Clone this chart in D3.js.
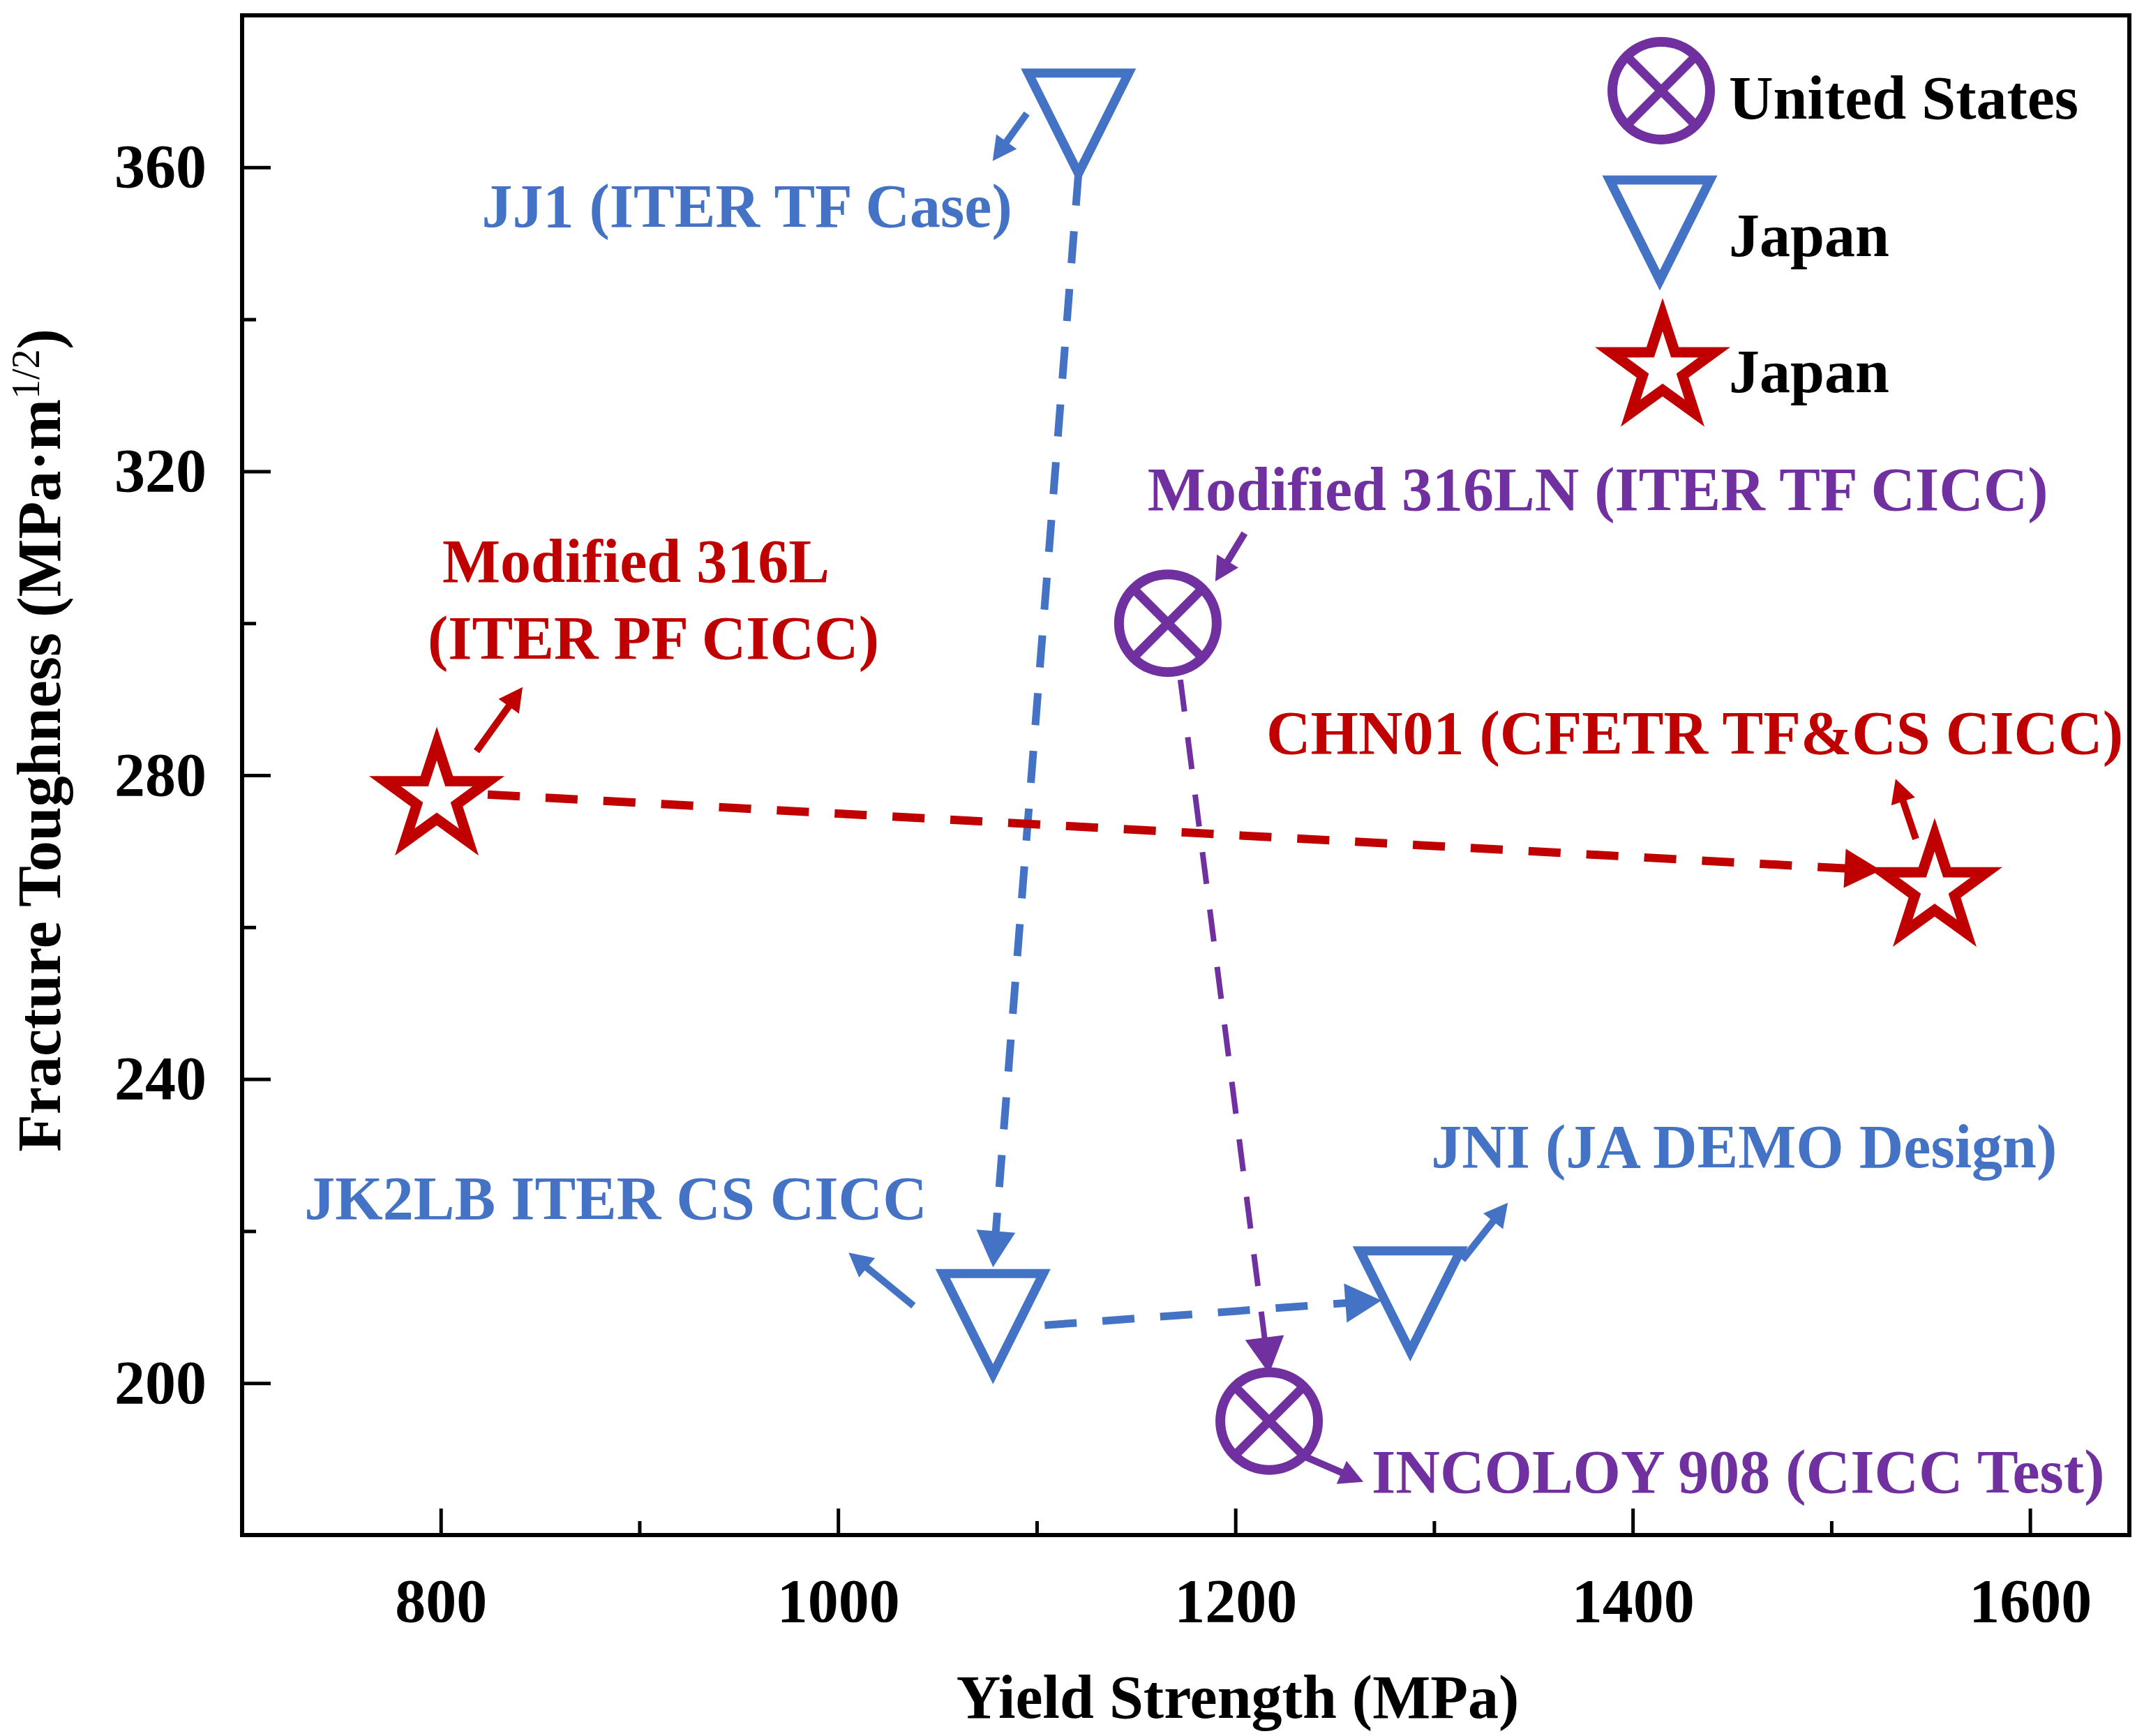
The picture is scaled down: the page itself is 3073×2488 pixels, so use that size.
<!DOCTYPE html>
<html><head><meta charset="utf-8">
<script src="https://cdn.jsdelivr.net/npm/d3@7"></script>
<style>body{margin:0;background:#fff}</style>
</head><body><svg id="chart" width="3073" height="2488" xmlns="http://www.w3.org/2000/svg"></svg>
<script>
// ---------------- DATA ----------------
const seriesNames = ["United States", "Japan", "Japan"];
const pointLabels = [
  ["JJ1 (ITER TF Case)"],
  ["JK2LB ITER CS CICC"],
  ["JNI (JA DEMO Design)"],
  ["Modified 316LN (ITER TF CICC)"],
  ["INCOLOY 908 (CICC Test)"],
  ["Modified 316L", "(ITER PF CICC)"],
  ["CHN01 (CFETR TF&CS CICC)"]
];
const pointSeries = [1, 1, 1, 0, 0, 2, 2];
const yieldStrength = [1121, 1078, 1288, 1166, 1217, 798, 1552];
const fractureToughness = [368, 210, 213, 300, 195, 277, 265];
const transitions = [[0, 1], [1, 2], [3, 4], [5, 6]];
const xTicks = [800, 1000, 1200, 1400, 1600];
const xMinorTicks = [900, 1100, 1300, 1500];
const yTicks = [200, 240, 280, 320, 360];
const yMinorTicks = [220, 260, 300, 340];

// ---------------- STYLE / LAYOUT ----------------
const FONT = "'Liberation Serif','Times New Roman',serif";
const seriesColor = ["#7030A0", "#4472C4", "#C00000"];
const seriesShape = ["circleX", "triangle", "star"];
const connectorStyle = [
  {s: [0, 96], e: [0, -57], w: 11},
  {s: [74, 26], e: [-41, 23], w: 11},
  {s: [18, 81], e: [0, -68], w: 8},
  {s: [73, -5], e: [-77, -27], w: 12}
];
const labelLayout = [
  {pos: [[-95, 172]], anchor: "end"},
  {pos: [[-987, -126]], anchor: "start"},
  {pos: [[30, -168]], anchor: "start"},
  {pos: [[-29, -162]], anchor: "start"},
  {pos: [[147, 102]], anchor: "start"},
  {pos: [[8, -310], [-13, -200]], anchor: "start"},
  {pos: [[270, -194]], anchor: "end"}
];
const labelArrows = [
  [-74, 10, -123, 78],
  [-114, -2, -207, -78],
  [75, -35, 140, -117],
  [110, -129, 68, -60],
  [49, 50, 135, 87],
  [57, -67, 123, -159],
  [-27, -72, -56, -158]
];

const svg = d3.select("#chart");
const x = d3.scaleLinear().domain([700, 1650]).range([347, 3052]);
const y = d3.scaleLinear().domain([180, 380]).range([2200, 22]);

// ---------------- AXES ----------------
function styleAxis(g) {
  g.select(".domain").remove();
  g.selectAll(".tick line").attr("stroke", "#000").attr("stroke-width", 5);
  g.selectAll(".tick text").attr("font-family", FONT).attr("font-weight", "bold")
    .attr("font-size", 88).attr("fill", "#000");
}
const gx = svg.append("g").attr("transform", `translate(0,${y(180)})`)
  .call(d3.axisBottom(x).tickValues(xTicks).tickSize(-38).tickSizeOuter(0).tickPadding(62).tickFormat(d3.format("d")));
styleAxis(gx);
const gxm = svg.append("g").attr("transform", `translate(0,${y(180)})`)
  .call(d3.axisBottom(x).tickValues(xMinorTicks).tickSize(-20).tickSizeOuter(0).tickFormat(() => ""));
styleAxis(gxm);
const gy = svg.append("g").attr("transform", `translate(${x(700)},0)`)
  .call(d3.axisLeft(y).tickValues(yTicks).tickSize(-41).tickSizeOuter(0).tickPadding(51).tickFormat(d3.format("d")));
styleAxis(gy);
const gym = svg.append("g").attr("transform", `translate(${x(700)},0)`)
  .call(d3.axisLeft(y).tickValues(yMinorTicks).tickSize(-20).tickSizeOuter(0).tickFormat(() => ""));
styleAxis(gym);

svg.append("rect").attr("x", x(700)).attr("y", y(380))
  .attr("width", x(1650) - x(700)).attr("height", y(180) - y(380))
  .attr("fill", "none").attr("stroke", "#000").attr("stroke-width", 6);

// axis titles
svg.append("text").attr("x", 1774).attr("y", 2462).attr("text-anchor", "middle")
  .attr("font-family", FONT).attr("font-weight", "bold").attr("font-size", 88)
  .text("Yield Strength (MPa)");
const yt = svg.append("text").attr("transform", "translate(86,1061) rotate(-90)")
  .attr("text-anchor", "middle").attr("font-family", FONT).attr("font-weight", "bold").attr("font-size", 88);
yt.append("tspan").text("Fracture Toughness (MPa\u00B7m");
yt.append("tspan").attr("font-size", 56).attr("font-weight", "normal").attr("dy", -30).text("1/2");
yt.append("tspan").attr("dy", 30).text(")");

// ---------------- HELPERS ----------------
function arrow(g, x1, y1, x2, y2, color, width, headL, headW, dash) {
  const dx = x2 - x1, dy = y2 - y1, len = Math.hypot(dx, dy);
  const ux = dx / len, uy = dy / len, nx = -uy, ny = ux;
  const bx = x2 - ux * headL, by = y2 - uy * headL;
  const ln = g.append("line").attr("x1", x1).attr("y1", y1)
    .attr("x2", bx + ux * 4).attr("y2", by + uy * 4)
    .attr("stroke", color).attr("stroke-width", width);
  if (dash) ln.attr("stroke-dasharray", dash);
  g.append("path").attr("d", `M${x2},${y2}L${bx + nx * headW},${by + ny * headW}L${bx - nx * headW},${by - ny * headW}Z`)
    .attr("fill", color);
}
function starPath(R, r) {
  const p = [];
  for (let i = 0; i < 10; i++) {
    const a = -Math.PI / 2 + i * Math.PI / 5;
    const rad = i % 2 === 0 ? R : r;
    p.push([Math.cos(a) * rad, Math.sin(a) * rad]);
  }
  return "M" + p.map(d => d.join(",")).join("L") + "Z";
}
function marker(g, shape, color, cx, cy) {
  const m = g.append("g").attr("transform", `translate(${cx},${cy})`);
  if (shape === "circleX") {
    m.append("circle").attr("r", 70).attr("fill", "none").attr("stroke", color).attr("stroke-width", 14);
    const d = 70 * Math.SQRT1_2;
    m.append("path").attr("d", `M${-d},${-d}L${d},${d}M${-d},${d}L${d},${-d}`)
      .attr("stroke", color).attr("stroke-width", 13).attr("fill", "none");
  } else if (shape === "triangle") {
    m.append("path").attr("d", "M-72,-48L72,-48L0,96Z").attr("fill", "none")
      .attr("stroke", color).attr("stroke-width", 13).attr("stroke-linejoin", "miter").attr("stroke-miterlimit", 10);
  } else {
    m.append("path").attr("d", starPath(78, 30)).attr("fill", "none")
      .attr("stroke", color).attr("stroke-width", 15).attr("stroke-linejoin", "miter").attr("stroke-miterlimit", 10);
  }
}

// ---------------- CONNECTORS ----------------
const gc = svg.append("g");
transitions.forEach(([a, b], i) => {
  const st = connectorStyle[i];
  const col = seriesColor[pointSeries[a]];
  arrow(gc, x(yieldStrength[a]) + st.s[0], y(fractureToughness[a]) + st.s[1],
    x(yieldStrength[b]) + st.e[0], y(fractureToughness[b]) + st.e[1], col, st.w, 52, 28, "46,37");
});

// ---------------- MARKERS, LABELS ----------------
const gm = svg.append("g");
yieldStrength.forEach((v, i) => {
  const cx = x(v), cy = y(fractureToughness[i]);
  const col = seriesColor[pointSeries[i]];
  marker(gm, seriesShape[pointSeries[i]], col, cx, cy);
  const la = labelArrows[i];
  arrow(gm, cx + la[0], cy + la[1], cx + la[2], cy + la[3], col, 10, 34, 18, null);
  const L = labelLayout[i];
  pointLabels[i].forEach((t, k) => {
    gm.append("text").attr("x", cx + L.pos[k][0]).attr("y", cy + L.pos[k][1])
      .attr("text-anchor", L.anchor).attr("font-family", FONT).attr("font-weight", "bold")
      .attr("font-size", 88).attr("fill", col).text(t);
  });
});

// ---------------- LEGEND ----------------
const legendPos = [[2381, 130, 170], [2379, 306, 367], [2383, 529, 562]];
const gl = svg.append("g");
seriesNames.forEach((n, i) => {
  marker(gl, seriesShape[i], seriesColor[i], legendPos[i][0], legendPos[i][1]);
  gl.append("text").attr("x", 2478).attr("y", legendPos[i][2]).attr("font-family", FONT)
    .attr("font-weight", "bold").attr("font-size", 88).attr("fill", "#000").text(n);
});
</script>
</body></html>
